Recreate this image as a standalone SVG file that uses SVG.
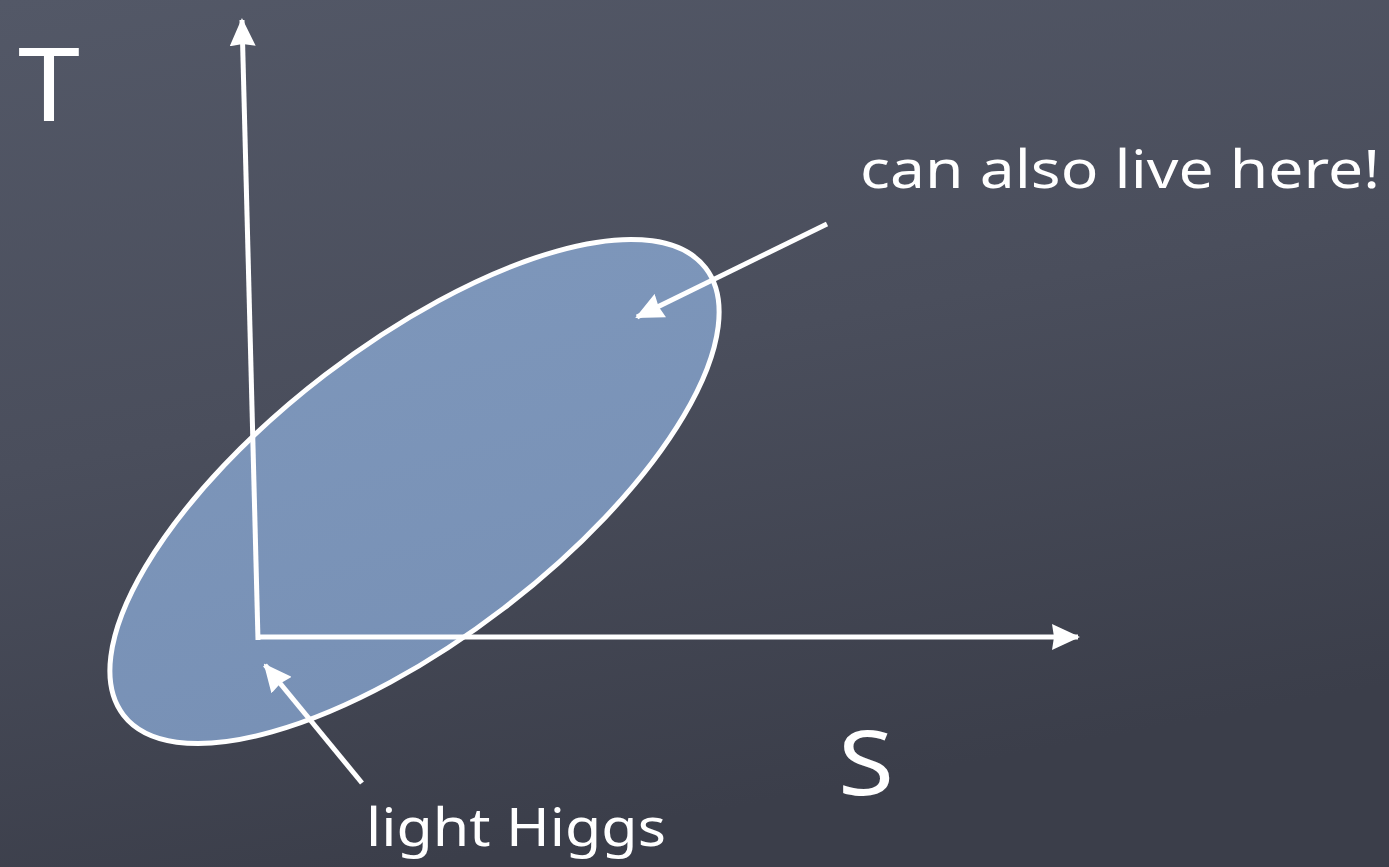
<svg xmlns="http://www.w3.org/2000/svg" width="1389" height="867" viewBox="0 0 1389 867">
  <defs>
    <linearGradient id="bg" x1="0" y1="0" x2="0.3" y2="1">
      <stop offset="0" stop-color="#535867"/>
      <stop offset="0.5" stop-color="#4a4e5c"/>
      <stop offset="1" stop-color="#3b3e4a"/>
    </linearGradient>
    <linearGradient id="blob" x1="0" y1="1" x2="1" y2="0">
      <stop offset="0" stop-color="#7790b5"/>
      <stop offset="1" stop-color="#7e97bb"/>
    </linearGradient>
    <marker id="head" viewBox="0 0 28 26" refX="26" refY="13" markerWidth="28" markerHeight="26" markerUnits="userSpaceOnUse" orient="auto">
      <path d="M0,0 L28,13 L0,26 L2,13 Z" fill="#ffffff"/>
    </marker>
  </defs>
  <style>
    .line { stroke: #ffffff; stroke-width: 5; fill: none; }
    .lbl { fill: #ffffff; font-family: "Noto Sans", "Open Sans", "DejaVu Sans", sans-serif; }
  </style>
  <rect x="0" y="0" width="1389" height="867" fill="url(#bg)"/>

  <g id="region">
    <ellipse cx="414.5" cy="491.5" rx="367" ry="147" transform="rotate(-37.5 414.5 491.5)" fill="url(#blob)" stroke="#ffffff" stroke-width="5"/>
  </g>

  <g id="connectors">
    <line class="line" x1="258" y1="640" x2="242" y2="20" marker-end="url(#head)"/>
    <line class="line" x1="256" y1="637" x2="1078" y2="637" marker-end="url(#head)"/>
    <line class="line" x1="827" y1="224" x2="637" y2="317" marker-end="url(#head)"/>
    <line class="line" x1="362" y1="783" x2="265" y2="665" marker-end="url(#head)"/>
  </g>

  <g id="label-T">
    <text class="lbl" x="18" y="121" font-size="102" textLength="62" lengthAdjust="spacingAndGlyphs">T</text>
  </g>
  <g id="label-S">
    <text class="lbl" x="838" y="795" font-size="90" textLength="56" lengthAdjust="spacingAndGlyphs">S</text>
  </g>
  <g id="label-here">
    <text class="lbl" x="860" y="188" font-size="52" textLength="520" lengthAdjust="spacingAndGlyphs">can also live here!</text>
  </g>
  <g id="label-higgs">
    <text class="lbl" x="366" y="846" font-size="52" textLength="300" lengthAdjust="spacingAndGlyphs">light Higgs</text>
  </g>
</svg>
